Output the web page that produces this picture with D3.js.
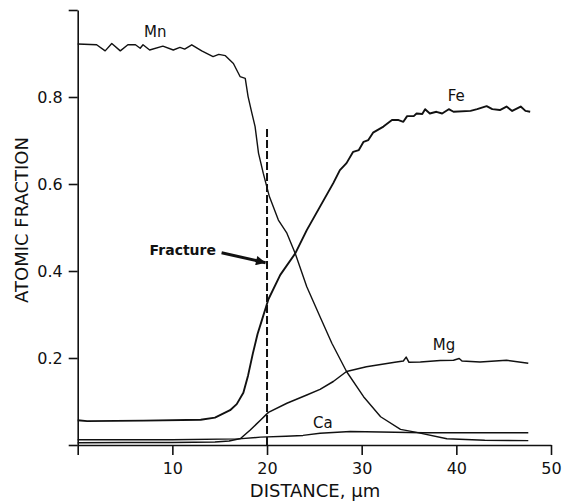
<!DOCTYPE html>
<html>
<head>
<meta charset="utf-8">
<script src="https://cdn.jsdelivr.net/npm/d3@7"></script>
<style>
  body { margin: 0; background: #fff; }
  svg { display: block; }
  text { font-family: "DejaVu Sans", sans-serif; fill: #111; }
</style>
</head>
<body>
<svg id="chart"></svg>
<script>
// atomic fraction profiles across the fracture
const mnX = [0, 2.0, 2.9, 3.6, 4.5, 5.3, 6.1, 6.6, 6.9, 7.6, 9.0, 10.1, 10.8, 11.3, 12.05, 13.1, 14.3, 14.9, 15.6, 16.45, 17.15, 17.7, 18.0, 18.4, 18.74, 19.1, 19.6, 20.25, 21.2, 22.1, 22.97, 24.2, 25.6, 26.85, 28.4, 30.2, 32.0, 34.1, 35.8, 39.0, 43.0, 47.6];
const mnY = [0.922, 0.920, 0.906, 0.923, 0.906, 0.920, 0.920, 0.912, 0.920, 0.908, 0.917, 0.908, 0.914, 0.910, 0.920, 0.906, 0.893, 0.898, 0.895, 0.877, 0.847, 0.843, 0.801, 0.763, 0.732, 0.671, 0.625, 0.571, 0.517, 0.487, 0.441, 0.364, 0.295, 0.234, 0.169, 0.111, 0.065, 0.036, 0.029, 0.0145, 0.011, 0.010];

const feX = [0, 1, 7, 13, 14.5, 16.1, 16.8, 17.5, 18.0, 18.5, 19.0, 19.5, 20.15, 21.4, 23.0, 24.2, 25.6, 27.0, 27.7, 28.4, 29.1, 29.7, 30.2, 30.7, 31.2, 32.3, 33.2, 33.9, 34.4, 34.8, 35.5, 35.8, 36.4, 36.7, 37.2, 37.9, 38.5, 39.2, 39.7, 41.5, 42.2, 43.2, 43.8, 44.6, 45.3, 45.9, 46.8, 47.3, 47.8];
const feY = [0.057, 0.055, 0.056, 0.058, 0.063, 0.080, 0.094, 0.120, 0.160, 0.210, 0.255, 0.290, 0.335, 0.391, 0.441, 0.494, 0.548, 0.602, 0.632, 0.648, 0.674, 0.678, 0.697, 0.701, 0.718, 0.732, 0.747, 0.747, 0.743, 0.756, 0.756, 0.762, 0.761, 0.772, 0.762, 0.766, 0.762, 0.772, 0.766, 0.768, 0.772, 0.779, 0.772, 0.770, 0.778, 0.768, 0.778, 0.768, 0.766];

const mgX = [0, 5, 10, 14.5, 16, 17.2, 18.2, 19.3, 20.15, 22.1, 24.2, 25.6, 27, 28.4, 30.5, 32.0, 33.5, 34.4, 34.7, 35.0, 36.2, 38.3, 39.7, 40.3, 40.6, 42.5, 45.3, 47.6];
const mgY = [0.005, 0.006, 0.006, 0.007, 0.009, 0.015, 0.034, 0.057, 0.075, 0.096, 0.115, 0.128, 0.146, 0.169, 0.180, 0.185, 0.190, 0.193, 0.202, 0.190, 0.191, 0.194, 0.195, 0.199, 0.193, 0.191, 0.195, 0.188];

const caX = [0, 10, 17, 19.3, 22, 23.8, 25.6, 28.8, 32, 36.5, 47.6];
const caY = [0.012, 0.012, 0.014, 0.018, 0.020, 0.022, 0.027, 0.031, 0.030, 0.028, 0.028];

const xTicks = [0, 10, 20, 30, 40, 50];
const yTicks = [0, 0.2, 0.4, 0.6, 0.8, 1.0];
const fractureAt = 20;

const series = [
    { name: "Mn", xs: mnX, ys: mnY, width: 1.4, label: [8.2, 0.938] },
    { name: "Fe", xs: feX, ys: feY, width: 1.9, label: [40.0, 0.79] },
    { name: "Mg", xs: mgX, ys: mgY, width: 1.5, label: [38.7, 0.218] },
    { name: "Ca", xs: caX, ys: caY, width: 1.4, label: [25.9, 0.04] }
];

const svgWidth = 565, svgHeight = 504;
const svg = d3.select('#chart')
    .attr("width", svgWidth)
    .attr("height", svgHeight);

const x = d3.scaleLinear().domain([0, 50]).range([77.7, 551]);
const y = d3.scaleLinear().domain([0, 1]).range([445, 10]);

// axes
const xAxis = svg.append("g")
    .attr("transform", "translate(0," + y(0) + ")")
    .call(d3.axisBottom(x).tickValues(xTicks).tickSize(10).tickSizeOuter(0).tickPadding(8)
        .tickFormat(d => d === 0 ? "" : d));
const yAxis = svg.append("g")
    .attr("transform", "translate(" + x(0) + ",0)")
    .call(d3.axisLeft(y).tickValues(yTicks).tickSize(9).tickSizeOuter(0).tickPadding(6)
        .tickFormat(d => (d === 0 || d === 1) ? "" : d3.format(".1f")(d)));

[xAxis, yAxis].forEach(a => {
    a.selectAll("path, line").attr("stroke", "#111").attr("stroke-width", 1.6);
    a.selectAll("text").style("font-family", "DejaVu Sans").style("font-size", "16px").attr("fill", "#111");
});

svg.append("text")
    .attr("x", 315).attr("y", 497)
    .attr("text-anchor", "middle")
    .style("font-size", "18px")
    .text("DISTANCE, \u00b5m");

svg.append("text")
    .attr("transform", "translate(28,220) rotate(-90)")
    .attr("text-anchor", "middle")
    .style("font-size", "18px")
    .text("ATOMIC FRACTION");

// curves
const line = d3.line()
    .x(d => x(d[0]))
    .y(d => y(d[1]));

series.forEach(s => {
    svg.append("path")
        .datum(d3.zip(s.xs, s.ys))
        .attr("fill", "none")
        .attr("stroke", "#111")
        .attr("stroke-width", s.width)
        .attr("stroke-linejoin", "round")
        .attr("d", line);
    svg.append("text")
        .attr("x", x(s.label[0])).attr("y", y(s.label[1]))
        .attr("text-anchor", "middle")
        .style("font-size", "15px")
        .text(s.name);
});

// fracture line + arrow
svg.append("line")
    .attr("x1", x(fractureAt)).attr("x2", x(fractureAt))
    .attr("y1", y(0)).attr("y2", y(0.732))
    .attr("stroke", "#111")
    .attr("stroke-width", 2)
    .attr("stroke-dasharray", "8,3");

svg.append("defs").append("marker")
    .attr("id", "head")
    .attr("viewBox", "0 0 10 10")
    .attr("refX", 10).attr("refY", 5)
    .attr("markerWidth", 4).attr("markerHeight", 3.2)
    .attr("markerUnits", "strokeWidth")
    .attr("orient", "auto")
    .append("path")
    .attr("d", "M0,0L10,5L0,10z")
    .attr("fill", "#111");

svg.append("line")
    .attr("x1", x(15.2)).attr("y1", y(0.442))
    .attr("x2", x(19.85)).attr("y2", y(0.419))
    .attr("stroke", "#111")
    .attr("stroke-width", 3)
    .attr("marker-end", "url(#head)");

svg.append("text")
    .attr("x", 216).attr("y", 255)
    .attr("text-anchor", "end")
    .style("font-size", "14px")
    .style("font-weight", "bold")
    .text("Fracture");
</script>
</body>
</html>
